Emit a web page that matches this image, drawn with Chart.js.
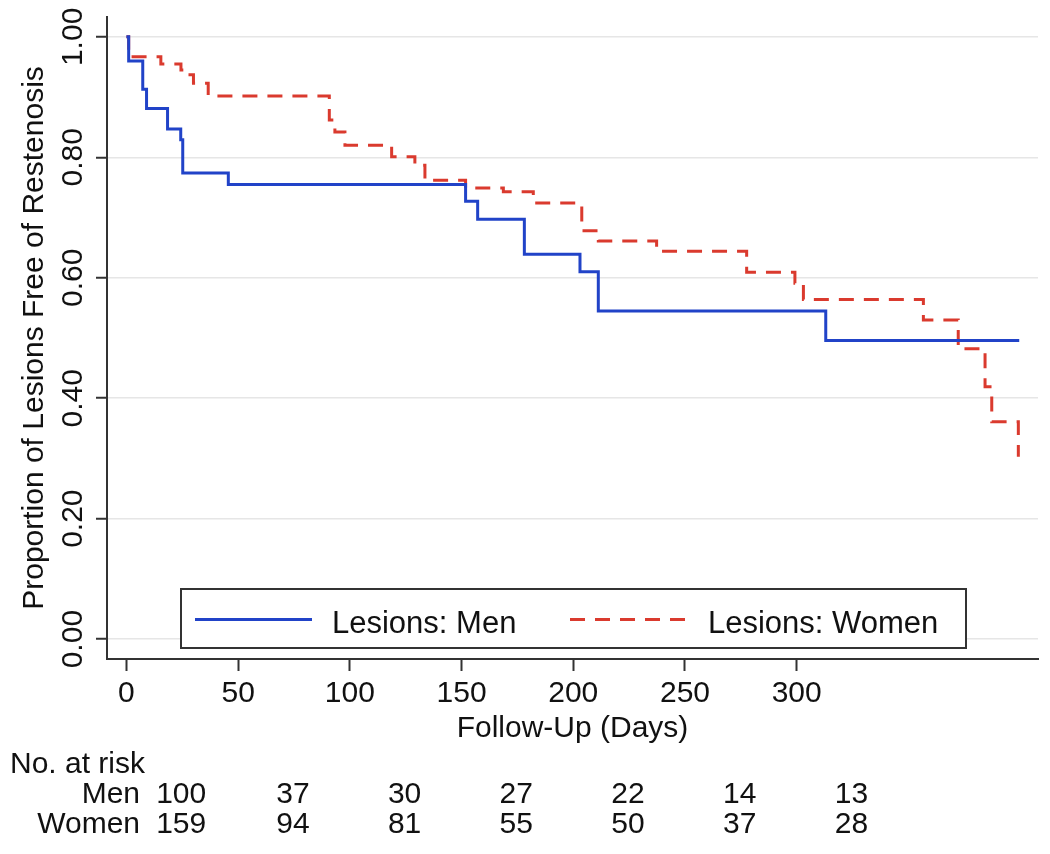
<!DOCTYPE html>
<html>
<head>
<meta charset="utf-8">
<script src="https://cdn.jsdelivr.net/npm/chart.js@4"></script>
<style>
  html, body { margin: 0; padding: 0; background: #fff; }
  #wrap { width: 1050px; height: 854px; }
</style>
</head>
<body>
<div id="wrap"><canvas id="c" width="1050" height="854"></canvas></div>
<script>
// ---- data ----
const menDays = [0, 1, 7.3, 9, 18.4, 24.3, 25.2, 45.6, 151.8, 157.2, 178.1, 203, 211.2, 313, 399.6];
const menSurv = [1.0, 0.96, 0.913, 0.881, 0.847, 0.829, 0.774, 0.755, 0.727, 0.697, 0.639, 0.610, 0.545, 0.496, 0.496];

const womenDays = [0, 1, 15.4, 24.4, 27, 30, 36.6, 90.8, 93.3, 97.8, 118.7, 129.1, 133.6, 151.8, 168.7, 182.1, 203.8, 211.2, 237.3, 277.6, 299.2, 303, 356.7, 372.3, 384.3, 387.3, 399.2];
const womenSurv = [1.0, 0.967, 0.955, 0.945, 0.937, 0.923, 0.902, 0.862, 0.842, 0.820, 0.801, 0.787, 0.762, 0.749, 0.743, 0.724, 0.678, 0.661, 0.644, 0.609, 0.591, 0.564, 0.530, 0.482, 0.419, 0.361, 0.303];

const xTicks = [0, 50, 100, 150, 200, 250, 300];
const yTicks = [0, 0.2, 0.4, 0.6, 0.8, 1.0];

const riskTimes = [0, 50, 100, 150, 200, 250, 300];
const menRisk = [100, 37, 30, 27, 22, 14, 13];
const womenRisk = [159, 94, 81, 55, 50, 37, 28];

const seriesNames = ['Lesions: Men', 'Lesions: Women'];
const groupNames = ['Men', 'Women'];
const xTitle = 'Follow-Up (Days)';
const yTitle = 'Proportion of Lesions Free of Restenosis';
const riskTitle = 'No. at risk';

// ---- styles ----
const FF = '"Liberation Sans", Arial, Helvetica, sans-serif';
const BLUE = '#2143c8';
const RED = '#da3a2e';
const AXIS = '#333333';
const TEXT = '#111111';

const toPts = (xs, ys) => xs.map((x, i) => ({ x: x, y: ys[i] }));

const textPlugin = {
  id: 'texts',
  afterDraw(chart) {
    const ctx = chart.ctx, xs = chart.scales.x, ys = chart.scales.y, ca = chart.chartArea;
    ctx.save();
    ctx.fillStyle = TEXT;
    ctx.font = '30px ' + FF;

    // y tick labels (rotated)
    ys.ticks.forEach(t => {
      const y = ys.getPixelForValue(t.value);
      ctx.save();
      ctx.translate(ca.left - 25, y);
      ctx.rotate(-Math.PI / 2);
      ctx.textAlign = 'center';
      ctx.textBaseline = 'alphabetic';
      ctx.fillText(t.value.toFixed(2), 0, 0);
      ctx.restore();
    });

    // y title
    ctx.save();
    ctx.translate(43, (ca.top + ca.bottom) / 2);
    ctx.rotate(-Math.PI / 2);
    ctx.textAlign = 'center';
    ctx.textBaseline = 'alphabetic';
    ctx.fillText(yTitle, 0, 0);
    ctx.restore();

    // x tick labels
    ctx.textAlign = 'center';
    ctx.textBaseline = 'alphabetic';
    xs.ticks.forEach(t => {
      ctx.fillText(String(t.value), xs.getPixelForValue(t.value), ca.bottom + 43);
    });

    // x title
    ctx.fillText(xTitle, (ca.left + ca.right) / 2, ca.bottom + 78);

    // number at risk table
    ctx.textAlign = 'left';
    ctx.fillText(riskTitle, 10, ca.bottom + 114);
    ctx.textAlign = 'right';
    ctx.fillText(groupNames[0], 140, ca.bottom + 144);
    ctx.fillText(groupNames[1], 140, ca.bottom + 174);
    ctx.textAlign = 'center';
    const shift = (xs.getPixelForValue(50) - xs.getPixelForValue(0)) * 0.49;
    riskTimes.forEach((t, i) => {
      const px = xs.getPixelForValue(t) + shift;
      ctx.fillText(String(menRisk[i]), px, ca.bottom + 144);
      ctx.fillText(String(womenRisk[i]), px, ca.bottom + 174);
    });

    // legend box inside plot
    const L = ca.left + 74, R = ca.right - 72, T = ca.bottom - 70, B = ca.bottom - 11;
    ctx.fillStyle = '#ffffff';
    ctx.fillRect(L, T, R - L, B - T);
    ctx.strokeStyle = AXIS;
    ctx.lineWidth = 2;
    ctx.strokeRect(L, T, R - L, B - T);
    const my = (T + B) / 2 + 1;
    ctx.lineWidth = 3;
    ctx.strokeStyle = BLUE;
    ctx.beginPath(); ctx.moveTo(L + 14, my); ctx.lineTo(L + 131, my); ctx.stroke();
    ctx.strokeStyle = RED;
    ctx.setLineDash([15, 10]);
    ctx.beginPath(); ctx.moveTo(L + 389, my); ctx.lineTo(L + 507, my); ctx.stroke();
    ctx.setLineDash([]);
    ctx.fillStyle = TEXT;
    ctx.font = '31px ' + FF;
    ctx.textAlign = 'left';
    ctx.fillText(seriesNames[0], L + 151, B - 15);
    ctx.fillText(seriesNames[1], L + 527, B - 15);
    ctx.restore();
  }
};

new Chart(document.getElementById('c'), {
  type: 'line',
  data: {
    datasets: [
      {
        label: seriesNames[0],
        data: toPts(menDays, menSurv),
        borderColor: BLUE,
        borderWidth: 3,
        stepped: 'before',
        pointRadius: 0,
        fill: false
      },
      {
        label: seriesNames[1],
        data: toPts(womenDays, womenSurv),
        borderColor: RED,
        borderWidth: 3,
        borderDash: [15, 10],
        stepped: 'before',
        pointRadius: 0,
        fill: false
      }
    ]
  },
  options: {
    responsive: false,
    animation: false,
    devicePixelRatio: 1,
    layout: { padding: { left: 0, top: 17, right: 12, bottom: 0 } },
    plugins: { legend: { display: false }, tooltip: { enabled: false }, title: { display: false } },
    scales: {
      x: {
        type: 'linear',
        min: -8.7,
        max: 408,
        afterBuildTicks: s => { s.ticks = xTicks.map(v => ({ value: v })); },
        afterFit: s => { s.height = 195; },
        ticks: { display: false },
        grid: { drawOnChartArea: false, drawTicks: true, tickLength: 12, tickColor: AXIS, tickWidth: 2 },
        border: { display: true, color: AXIS, width: 2 }
      },
      y: {
        type: 'linear',
        min: -0.033,
        max: 1.033,
        afterBuildTicks: s => { s.ticks = yTicks.map(v => ({ value: v })); },
        afterFit: s => { s.width = 107; },
        ticks: { display: false },
        grid: { color: '#e6e6e6', lineWidth: 1.5, drawTicks: true, tickLength: 11, tickColor: AXIS, tickWidth: 2 },
        border: { display: true, color: AXIS, width: 2 }
      }
    }
  },
  plugins: [textPlugin]
});
</script>
</body>
</html>
